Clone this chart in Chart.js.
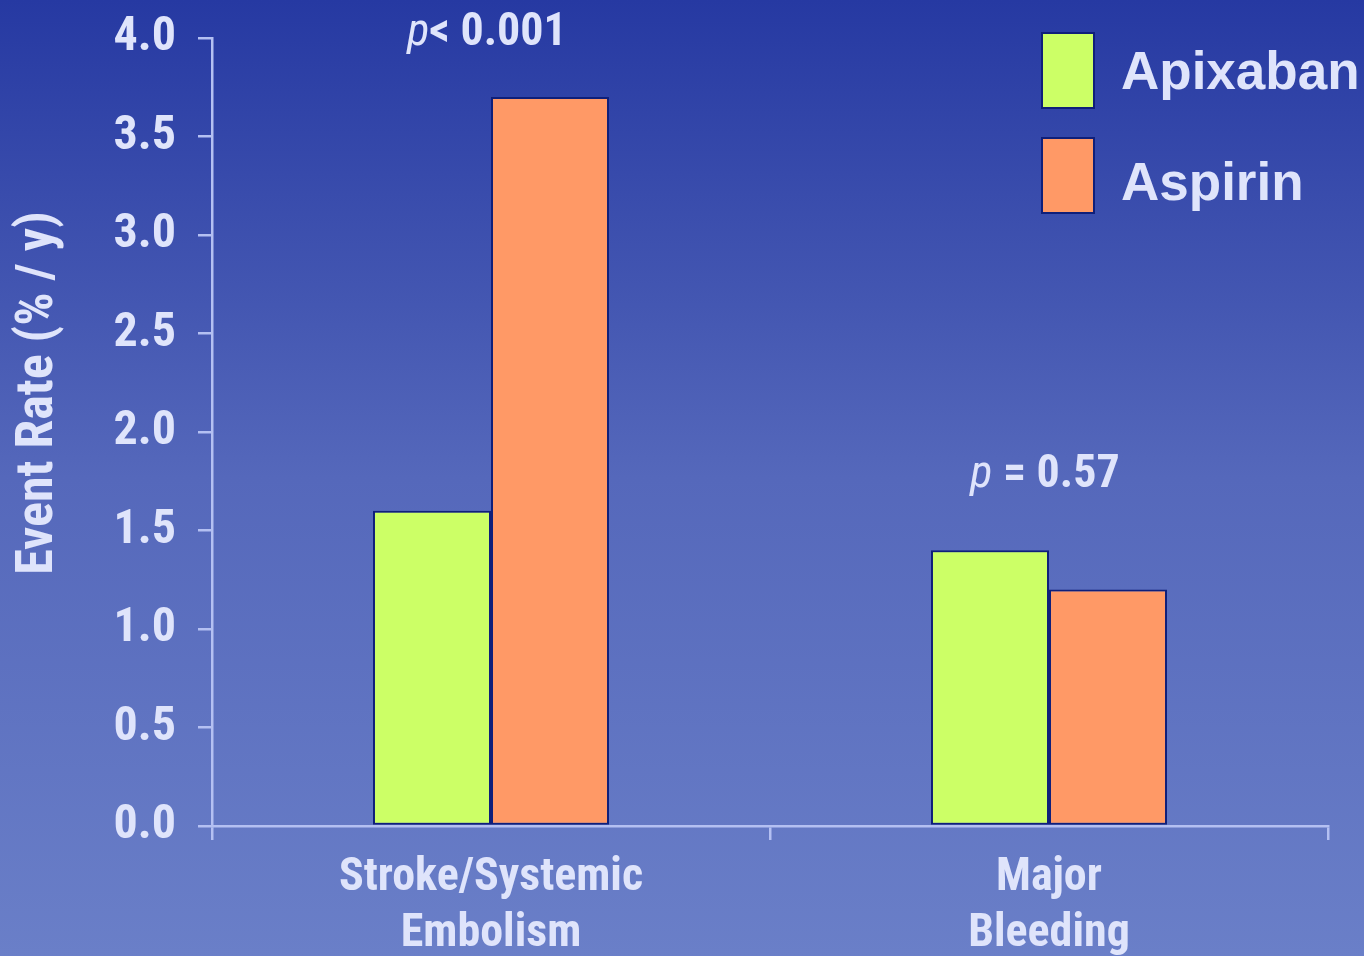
<!DOCTYPE html>
<html>
<head>
<meta charset="utf-8">
<title>Event Rate: Apixaban vs Aspirin</title>
<script src="https://cdn.jsdelivr.net/npm/chart.js@4/dist/chart.umd.min.js"></script>
<style>
  html, body {
    margin: 0;
    padding: 0;
    width: 1364px;
    height: 956px;
    overflow: hidden;
    background: linear-gradient(to bottom, #2639a2 0%, #5568bb 50%, #6a7fc8 100%);
  }
  #wrap { position: relative; width: 1364px; height: 956px; }
</style>
</head>
<body>
<div id="wrap"><canvas id="eventChart" width="1364" height="956"></canvas></div>
<script>
//-----------------------------------------------------------------------------
// Chart data: event rates (% per year) for the two outcomes.
//-----------------------------------------------------------------------------

const categories = [["Stroke/Systemic", "Embolism"], ["Major", "Bleeding"]];
const apixaban = [1.6, 1.4];
const aspirin = [3.7, 1.2];
const pLabels = [["p", "< 0.001"], ["p", " = 0.57"]];
const yTicks = [0, 0.5, 1, 1.5, 2, 2.5, 3, 3.5, 4];

const textColor = "#dfe4fb";
const axisColor = "#b4c0f2";
const narrow = "'Liberation Sans Narrow', 'Arial Narrow', 'Roboto Condensed', sans-serif";
const wide = "'Liberation Sans', Arial, sans-serif";

//-----------------------------------------------------------------------------
// Plugin that draws the p-values, the rotated y title and the legend boxes.
//-----------------------------------------------------------------------------

const extras = {
  id: "extras",
  afterDraw(chart) {
    const ctx = chart.ctx;
    const x = chart.scales.x;
    const y = chart.scales.y;

    // p-value labels above each pair of bars
    ctx.save();
    ctx.fillStyle = textColor;
    ctx.textBaseline = "alphabetic";
    pLabels.forEach((lbl, i) => {
      const top = Math.max(apixaban[i], aspirin[i]);
      const cx = x.getPixelForValue(i) - 4;
      const by = y.getPixelForValue(top) - (i === 0 ? 52 : 63);
      ctx.font = "italic 46px " + narrow;
      const w1 = ctx.measureText(lbl[0]).width;
      ctx.font = "bold 46px " + narrow;
      const w2 = ctx.measureText(lbl[1]).width;
      const sx = cx - (w1 + w2) / 2;
      ctx.font = "italic 46px " + narrow;
      ctx.fillText(lbl[0], sx, by);
      ctx.font = "bold 46px " + narrow;
      ctx.fillText(lbl[1], sx + w1, by);
    });
    ctx.restore();

    // rotated y axis title
    ctx.save();
    ctx.translate(39, 393);
    ctx.rotate(-Math.PI / 2);
    ctx.fillStyle = textColor;
    ctx.font = "bold 52px " + narrow;
    ctx.textAlign = "center";
    ctx.textBaseline = "middle";
    ctx.fillText("Event Rate (% / y)", 0, 0);
    ctx.restore();

    // legend
    ctx.save();
    chart.data.datasets.forEach((ds, i) => {
      const top = 33 + i * 105;
      ctx.fillStyle = ds.backgroundColor;
      ctx.strokeStyle = ds.borderColor;
      ctx.lineWidth = 2;
      ctx.fillRect(1042, top, 52, 75);
      ctx.strokeRect(1042, top, 52, 75);
      ctx.fillStyle = textColor;
      ctx.font = "bold 53px " + wide;
      ctx.textBaseline = "alphabetic";
      ctx.fillText(ds.label, 1121, 89 + i * 111);
    });
    ctx.restore();
  },
};

const ctx = document.getElementById("eventChart").getContext("2d");

const eventChart = new Chart(ctx, {
  type: "bar",
  data: {
    labels: categories,
    datasets: [
      {
        label: "Apixaban",
        data: apixaban,
        backgroundColor: "#ccff66",
        borderColor: "#0f1f7a",
        borderWidth: 2,
        borderSkipped: false,
      },
      {
        label: "Aspirin",
        data: aspirin,
        backgroundColor: "#ff9966",
        borderColor: "#0f1f7a",
        borderWidth: 2,
        borderSkipped: false,
      },
    ],
  },
  options: {
    responsive: false,
    animation: false,
    layout: { padding: { top: 38, right: 36, left: 0, bottom: 0 } },
    categoryPercentage: 0.423,
    barPercentage: 1.0,
    plugins: {
      legend: { display: false },
      tooltip: { enabled: false },
    },
    scales: {
      x: {
        afterFit: (scale) => {
          scale.height = 130;
          scale.paddingLeft = 0;
          scale.paddingRight = 0;
        },
        grid: {
          display: true,
          offset: true,
          drawOnChartArea: false,
          color: axisColor,
          lineWidth: 2.5,
          tickLength: 14,
        },
        border: { display: true, color: axisColor, width: 2.5 },
        ticks: {
          color: textColor,
          font: { family: narrow, size: 46, weight: "bold", lineHeight: 1.22 },
          padding: 10,
        },
      },
      y: {
        min: 0,
        max: 4,
        afterFit: (scale) => {
          scale.width = 212;
          scale.paddingTop = 0;
          scale.paddingBottom = 0;
        },
        afterBuildTicks: (scale) => {
          scale.ticks = yTicks.map((v) => ({ value: v }));
        },
        grid: {
          display: true,
          drawOnChartArea: false,
          color: axisColor,
          lineWidth: 2.5,
          tickLength: 14,
        },
        border: { display: true, color: axisColor, width: 2.5 },
        ticks: {
          color: textColor,
          font: { family: narrow, size: 48, weight: "bold" },
          padding: 22,
          callback: (v) => Number(v).toFixed(1),
        },
      },
    },
  },
  plugins: [extras],
});
</script>
</body>
</html>
